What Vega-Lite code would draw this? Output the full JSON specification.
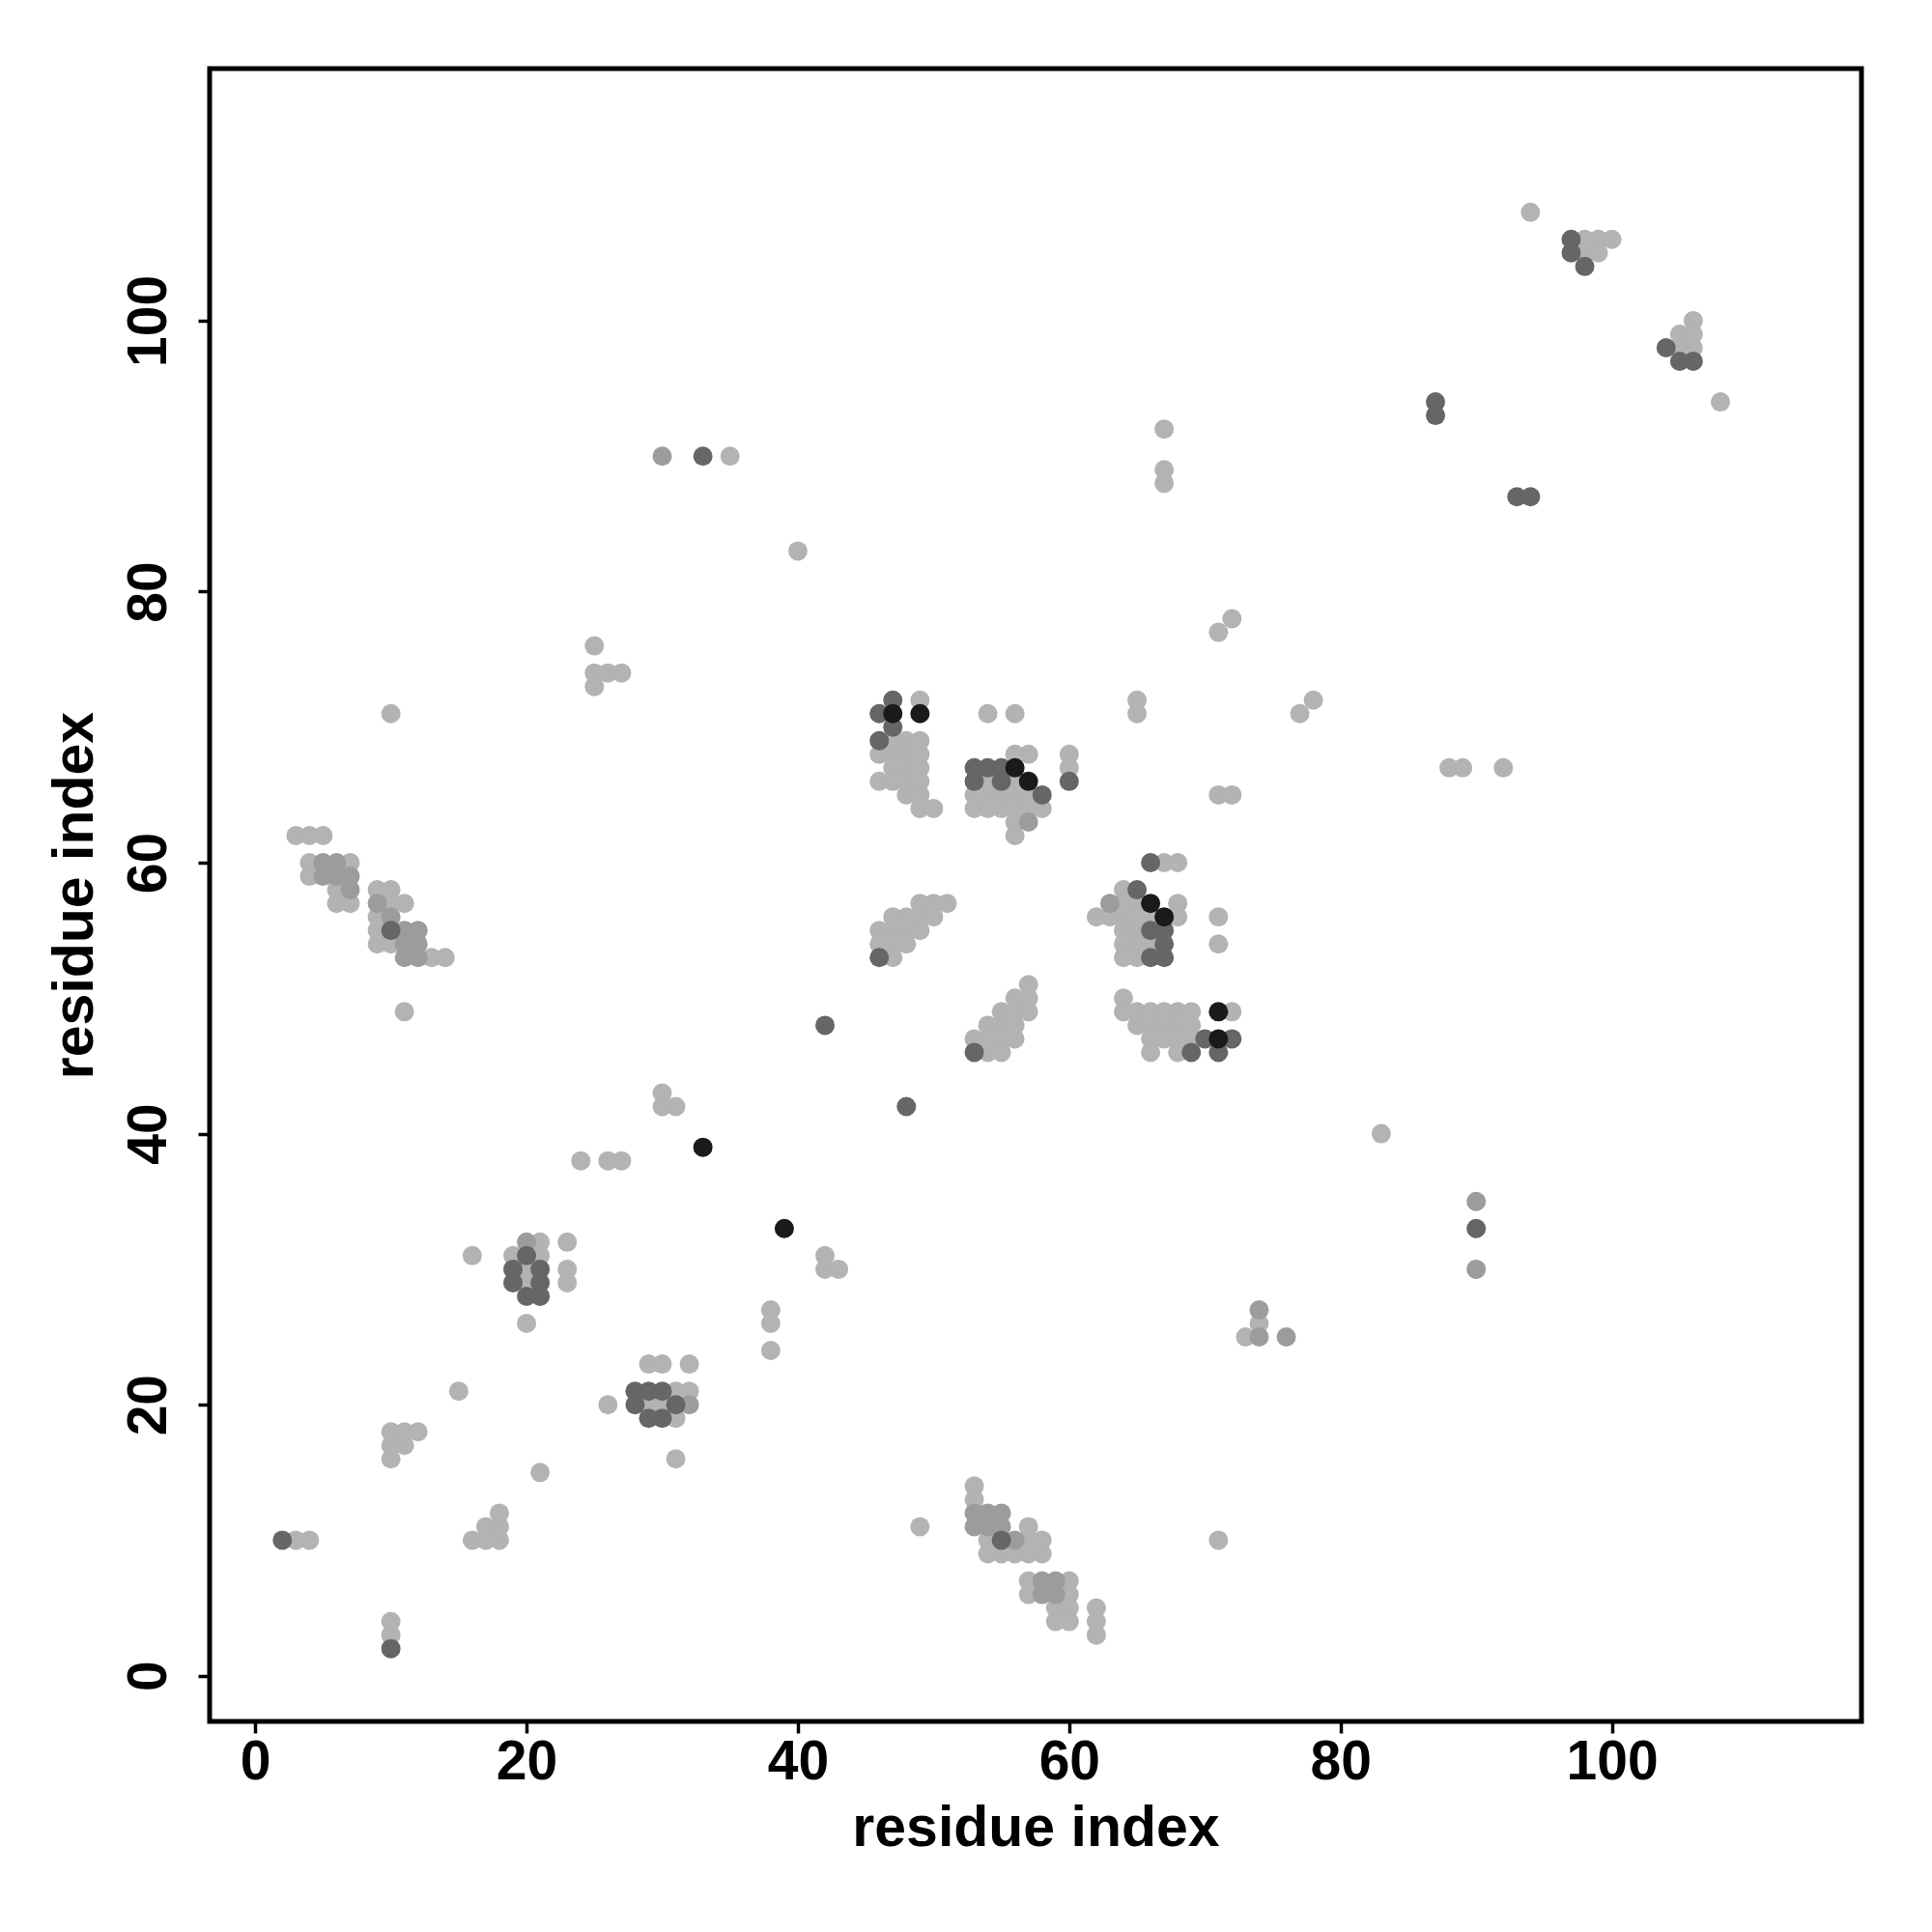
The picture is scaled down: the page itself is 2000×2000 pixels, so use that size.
{
  "$schema": "https://vega.github.io/schema/vega-lite/v6.json",
  "width": 1710,
  "height": 1711,
  "autosize": {"type": "none"},
  "padding": {"left": 217, "top": 71, "right": 73, "bottom": 218},
  "background": "white",
  "view": {"stroke": "black", "strokeWidth": 5, "fill": "white"},
  "config": {
    "font": "Liberation Sans",
    "axis": {"labelFont": "Liberation Sans", "titleFont": "Liberation Sans", "labelFontWeight": "bold", "titleFontWeight": "bold", "labelFontSize": 57, "titleFontSize": 59, "labelColor": "black", "titleColor": "black", "tickColor": "black", "tickWidth": 3.5, "tickSize": 12, "domain": false, "grid": false}
  },
  "data": {"values": [
    {"i":2,"j":10,"level":3},{"i":3,"j":10,"level":1},{"i":4,"j":10,"level":1},
    {"i":10,"j":2,"level":3},{"i":10,"j":3,"level":1},{"i":10,"j":4,"level":1},
    {"i":10,"j":16,"level":1},{"i":10,"j":17,"level":1},{"i":10,"j":18,"level":1},{"i":11,"j":17,"level":1},{"i":11,"j":18,"level":1},{"i":12,"j":18,"level":1},
    {"i":15,"j":21,"level":1},
    {"i":16,"j":10,"level":1},{"i":17,"j":10,"level":1},{"i":18,"j":10,"level":1},{"i":17,"j":11,"level":1},{"i":18,"j":11,"level":1},{"i":18,"j":12,"level":1},
    {"i":21,"j":15,"level":1},{"i":26,"j":20,"level":1},{"i":20,"j":26,"level":1},{"i":16,"j":31,"level":1},
    {"i":20,"j":32,"level":2},{"i":21,"j":32,"level":1},{"i":23,"j":32,"level":1},
    {"i":19,"j":31,"level":1},{"i":20,"j":31,"level":3},{"i":21,"j":31,"level":1},
    {"i":19,"j":30,"level":3},{"i":20,"j":30,"level":1},{"i":21,"j":30,"level":3},{"i":23,"j":30,"level":1},
    {"i":19,"j":29,"level":3},{"i":20,"j":29,"level":1},{"i":21,"j":29,"level":3},{"i":23,"j":29,"level":1},
    {"i":20,"j":28,"level":3},{"i":21,"j":28,"level":3},
    {"i":39,"j":33,"level":4},
    {"i":42,"j":31,"level":1},{"i":42,"j":30,"level":1},{"i":43,"j":30,"level":1},
    {"i":38,"j":27,"level":1},{"i":38,"j":26,"level":1},{"i":38,"j":24,"level":1},
    {"i":29,"j":23,"level":1},{"i":30,"j":23,"level":1},{"i":32,"j":23,"level":1},
    {"i":28,"j":21,"level":3},{"i":29,"j":21,"level":3},{"i":30,"j":21,"level":3},{"i":31,"j":21,"level":1},{"i":32,"j":21,"level":1},
    {"i":28,"j":20,"level":3},{"i":29,"j":20,"level":1},{"i":30,"j":20,"level":1},{"i":31,"j":20,"level":3},{"i":32,"j":20,"level":2},
    {"i":29,"j":19,"level":3},{"i":30,"j":19,"level":3},{"i":31,"j":19,"level":1},
    {"i":31,"j":16,"level":1},{"i":49,"j":11,"level":1},
    {"i":53,"j":14,"level":1},{"i":53,"j":13,"level":1},{"i":53,"j":12,"level":2},{"i":53,"j":11,"level":2},
    {"i":54,"j":12,"level":2},{"i":55,"j":12,"level":2},{"i":54,"j":11,"level":2},{"i":55,"j":11,"level":2},
    {"i":54,"j":10,"level":1},{"i":55,"j":10,"level":3},{"i":56,"j":10,"level":2},{"i":57,"j":10,"level":1},{"i":58,"j":10,"level":1},
    {"i":57,"j":11,"level":1},
    {"i":54,"j":9,"level":1},{"i":55,"j":9,"level":1},{"i":56,"j":9,"level":1},{"i":57,"j":9,"level":1},{"i":58,"j":9,"level":1},
    {"i":57,"j":7,"level":1},{"i":58,"j":7,"level":2},{"i":59,"j":7,"level":2},{"i":60,"j":7,"level":1},
    {"i":57,"j":6,"level":1},{"i":58,"j":6,"level":2},{"i":59,"j":6,"level":2},{"i":60,"j":6,"level":1},
    {"i":59,"j":5,"level":1},{"i":60,"j":5,"level":1},{"i":59,"j":4,"level":1},{"i":60,"j":4,"level":1},
    {"i":62,"j":5,"level":1},{"i":62,"j":4,"level":1},{"i":62,"j":3,"level":1},
    {"i":74,"j":27,"level":2},{"i":74,"j":26,"level":1},{"i":74,"j":25,"level":2},{"i":73,"j":25,"level":1},{"i":76,"j":25,"level":2},
    {"i":71,"j":10,"level":1},
    {"i":90,"j":35,"level":2},{"i":90,"j":33,"level":3},{"i":90,"j":30,"level":2},
    {"i":10,"j":71,"level":1},
    {"i":3,"j":62,"level":1},{"i":4,"j":62,"level":1},{"i":5,"j":62,"level":1},
    {"i":4,"j":60,"level":1},{"i":5,"j":60,"level":2},{"i":6,"j":60,"level":2},{"i":7,"j":60,"level":1},
    {"i":4,"j":59,"level":1},{"i":5,"j":59,"level":2},{"i":6,"j":59,"level":2},{"i":7,"j":59,"level":2},
    {"i":6,"j":58,"level":1},{"i":7,"j":58,"level":2},{"i":9,"j":58,"level":1},{"i":10,"j":58,"level":1},
    {"i":6,"j":57,"level":1},{"i":7,"j":57,"level":1},{"i":9,"j":57,"level":2},{"i":10,"j":57,"level":1},{"i":11,"j":57,"level":1},
    {"i":9,"j":56,"level":1},{"i":10,"j":56,"level":2},
    {"i":9,"j":55,"level":1},{"i":10,"j":55,"level":3},{"i":11,"j":55,"level":2},{"i":12,"j":55,"level":2},
    {"i":9,"j":54,"level":1},{"i":10,"j":54,"level":1},{"i":11,"j":54,"level":2},{"i":12,"j":54,"level":2},
    {"i":11,"j":53,"level":2},{"i":12,"j":53,"level":2},{"i":13,"j":53,"level":1},{"i":14,"j":53,"level":1},
    {"i":11,"j":49,"level":1},
    {"i":25,"j":76,"level":1},{"i":25,"j":74,"level":1},{"i":25,"j":73,"level":1},{"i":26,"j":74,"level":1},{"i":27,"j":74,"level":1},
    {"i":24,"j":38,"level":1},{"i":26,"j":38,"level":1},{"i":27,"j":38,"level":1},
    {"i":47,"j":72,"level":3},{"i":49,"j":72,"level":1},
    {"i":46,"j":71,"level":3},{"i":47,"j":71,"level":4},{"i":49,"j":71,"level":4},
    {"i":47,"j":70,"level":3},
    {"i":46,"j":69,"level":3},{"i":47,"j":69,"level":1},{"i":48,"j":69,"level":1},{"i":49,"j":69,"level":1},
    {"i":46,"j":68,"level":1},{"i":47,"j":68,"level":1},{"i":48,"j":68,"level":1},{"i":49,"j":68,"level":1},
    {"i":47,"j":67,"level":1},{"i":48,"j":67,"level":1},{"i":49,"j":67,"level":1},
    {"i":46,"j":66,"level":1},{"i":47,"j":66,"level":1},{"i":48,"j":66,"level":1},{"i":49,"j":66,"level":1},
    {"i":48,"j":65,"level":1},{"i":49,"j":65,"level":1},{"i":49,"j":64,"level":1},{"i":50,"j":64,"level":1},
    {"i":54,"j":71,"level":1},{"i":56,"j":71,"level":1},
    {"i":56,"j":68,"level":1},{"i":57,"j":68,"level":1},
    {"i":53,"j":67,"level":3},{"i":54,"j":67,"level":3},{"i":55,"j":67,"level":3},{"i":56,"j":67,"level":4},
    {"i":53,"j":66,"level":3},{"i":54,"j":66,"level":1},{"i":55,"j":66,"level":3},{"i":56,"j":66,"level":1},{"i":57,"j":66,"level":4},
    {"i":53,"j":65,"level":1},{"i":54,"j":65,"level":1},{"i":55,"j":65,"level":1},{"i":56,"j":65,"level":1},{"i":57,"j":65,"level":1},{"i":58,"j":65,"level":3},
    {"i":53,"j":64,"level":1},{"i":54,"j":64,"level":1},{"i":55,"j":64,"level":1},{"i":56,"j":64,"level":1},{"i":57,"j":64,"level":1},{"i":58,"j":64,"level":1},
    {"i":56,"j":63,"level":1},{"i":57,"j":63,"level":2},{"i":56,"j":62,"level":1},
    {"i":49,"j":57,"level":1},{"i":50,"j":57,"level":1},{"i":51,"j":57,"level":1},
    {"i":47,"j":56,"level":1},{"i":48,"j":56,"level":1},{"i":49,"j":56,"level":1},{"i":50,"j":56,"level":1},
    {"i":46,"j":55,"level":1},{"i":47,"j":55,"level":1},{"i":48,"j":55,"level":1},{"i":49,"j":55,"level":1},
    {"i":46,"j":54,"level":1},{"i":47,"j":54,"level":1},{"i":48,"j":54,"level":1},
    {"i":46,"j":53,"level":3},{"i":47,"j":53,"level":1},
    {"i":42,"j":48,"level":3},{"i":48,"j":42,"level":3},
    {"i":30,"j":43,"level":1},{"i":30,"j":42,"level":1},{"i":31,"j":42,"level":1},
    {"i":33,"j":39,"level":4},
    {"i":57,"j":51,"level":1},{"i":56,"j":50,"level":1},{"i":57,"j":50,"level":1},
    {"i":55,"j":49,"level":1},{"i":56,"j":49,"level":1},{"i":57,"j":49,"level":1},
    {"i":54,"j":48,"level":1},{"i":55,"j":48,"level":1},{"i":56,"j":48,"level":1},
    {"i":53,"j":47,"level":1},{"i":54,"j":47,"level":1},{"i":55,"j":47,"level":1},{"i":56,"j":47,"level":1},
    {"i":53,"j":46,"level":3},{"i":54,"j":46,"level":1},{"i":55,"j":46,"level":1},
    {"i":71,"j":77,"level":1},{"i":72,"j":78,"level":1},
    {"i":65,"j":72,"level":1},{"i":65,"j":71,"level":1},
    {"i":77,"j":71,"level":1},{"i":78,"j":72,"level":1},
    {"i":60,"j":68,"level":1},{"i":60,"j":67,"level":1},{"i":60,"j":66,"level":3},
    {"i":71,"j":65,"level":1},{"i":72,"j":65,"level":1},
    {"i":66,"j":60,"level":3},{"i":67,"j":60,"level":1},{"i":68,"j":60,"level":1},
    {"i":64,"j":58,"level":1},{"i":65,"j":58,"level":3},
    {"i":63,"j":57,"level":2},{"i":64,"j":57,"level":1},{"i":65,"j":57,"level":1},{"i":66,"j":57,"level":4},{"i":68,"j":57,"level":1},
    {"i":62,"j":56,"level":1},{"i":63,"j":56,"level":1},{"i":64,"j":56,"level":1},{"i":65,"j":56,"level":1},{"i":66,"j":56,"level":1},{"i":67,"j":56,"level":4},{"i":68,"j":56,"level":1},
    {"i":71,"j":56,"level":1},
    {"i":64,"j":55,"level":1},{"i":65,"j":55,"level":1},{"i":66,"j":55,"level":3},{"i":67,"j":55,"level":3},
    {"i":64,"j":54,"level":1},{"i":65,"j":54,"level":1},{"i":66,"j":54,"level":1},{"i":67,"j":54,"level":3},
    {"i":71,"j":54,"level":1},
    {"i":64,"j":53,"level":1},{"i":65,"j":53,"level":1},{"i":66,"j":53,"level":3},{"i":67,"j":53,"level":3},
    {"i":64,"j":50,"level":1},
    {"i":64,"j":49,"level":1},{"i":65,"j":49,"level":1},{"i":66,"j":49,"level":1},{"i":67,"j":49,"level":1},{"i":68,"j":49,"level":1},{"i":69,"j":49,"level":1},{"i":71,"j":49,"level":4},{"i":72,"j":49,"level":1},
    {"i":65,"j":48,"level":1},{"i":66,"j":48,"level":1},{"i":67,"j":48,"level":1},{"i":68,"j":48,"level":1},{"i":69,"j":48,"level":1},
    {"i":66,"j":47,"level":1},{"i":67,"j":47,"level":1},{"i":68,"j":47,"level":1},{"i":69,"j":47,"level":1},{"i":70,"j":47,"level":3},{"i":71,"j":47,"level":4},{"i":72,"j":47,"level":3},
    {"i":66,"j":46,"level":1},{"i":68,"j":46,"level":1},{"i":69,"j":46,"level":3},{"i":71,"j":46,"level":3},
    {"i":83,"j":40,"level":1},
    {"i":88,"j":67,"level":1},{"i":89,"j":67,"level":1},{"i":92,"j":67,"level":1},
    {"i":30,"j":90,"level":2},{"i":33,"j":90,"level":3},{"i":35,"j":90,"level":1},{"i":40,"j":83,"level":1},
    {"i":67,"j":92,"level":1},{"i":67,"j":89,"level":1},{"i":67,"j":88,"level":1},
    {"i":87,"j":94,"level":3},{"i":87,"j":93,"level":3},
    {"i":94,"j":108,"level":1},
    {"i":97,"j":106,"level":3},{"i":98,"j":106,"level":1},{"i":99,"j":106,"level":1},{"i":100,"j":106,"level":1},
    {"i":97,"j":105,"level":3},{"i":98,"j":105,"level":1},{"i":99,"j":105,"level":1},{"i":98,"j":104,"level":3},
    {"i":106,"j":100,"level":1},{"i":105,"j":99,"level":1},{"i":106,"j":99,"level":1},
    {"i":104,"j":98,"level":3},{"i":105,"j":98,"level":1},{"i":106,"j":98,"level":1},
    {"i":105,"j":97,"level":3},{"i":106,"j":97,"level":3},
    {"i":108,"j":94,"level":1},{"i":93,"j":87,"level":3},{"i":94,"j":87,"level":3}
  ]},
  "mark": {"type": "point", "shape": "circle", "filled": true, "opacity": 1, "size": 400, "strokeWidth": 0},
  "encoding": {
    "x": {"field": "i", "type": "quantitative", "title": "residue index",
      "scale": {"domain": [-3.36, 118.4], "nice": false, "zero": false},
      "axis": {"values": [0, 20, 40, 60, 80, 100], "labelPadding": 2, "titlePadding": 11, "labelFlush": false, "labelOverlap": false}},
    "y": {"field": "j", "type": "quantitative", "title": "residue index",
      "scale": {"domain": [-3.37, 118.6], "nice": false, "zero": false},
      "axis": {"values": [0, 20, 40, 60, 80, 100], "labelAngle": -90, "labelAlign": "center", "labelBaseline": "bottom", "labelPadding": 22, "titlePadding": 18, "labelFlush": false, "labelOverlap": false}},
    "color": {"field": "level", "type": "ordinal", "legend": null,
      "scale": {"domain": [1, 2, 3, 4], "range": ["#b3b3b3", "#9c9c9c", "#666666", "#1a1a1a"]}},
    "order": {"field": "level", "type": "quantitative"}
  }
}
